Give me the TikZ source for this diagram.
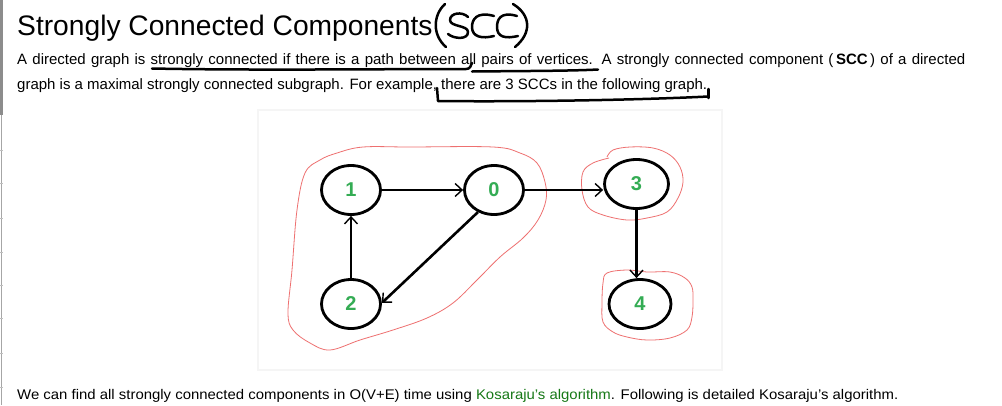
\documentclass[tikz,border=0pt]{standalone}
\usepackage{fontspec}
\setmainfont{Liberation Sans}
\usepackage{graphicx}
\usetikzlibrary{arrows.meta,shapes.geometric}
\definecolor{lbl}{RGB}{52,172,84}
\definecolor{linkc}{RGB}{22,120,22}
\definecolor{blob}{RGB}{238,112,112}
\begin{document}
\begin{tikzpicture}[x=1pt,y=-1pt,
  vtx/.style={ellipse, draw, line width=2.8pt, minimum width=59pt, minimum height=49pt, inner sep=0pt,
    font=\fontsize{20}{20}\selectfont\bfseries, text=lbl},
  edge/.style={line width=2.6pt, -{Straight Barb[length=7pt,width=13pt,line width=1.4pt]}},
  scc/.style={draw=blob, line width=0.8pt},
  pen/.style={line width=2.5pt, line cap=round, line join=round},
  txt/.style={anchor=base west, inner sep=0pt, font=\fontsize{15}{15}\selectfont}]
\useasboundingbox (0,0) rectangle (1002,405);
\fill[white] (0,0) rectangle (1002,405);
% left bar
\fill[black!45] (0,0) rectangle (2.5,115);
\draw[black!35, line width=1pt] (1,115) -- (1,405);
\foreach \yy in {150,183,218,252,285,318,353,387} \draw[black!25, line width=0.8pt] (0,\yy) -- (3,\yy);
% title
\node[anchor=base west, inner sep=0pt, font=\fontsize{28.2}{28.2}\selectfont] (title) at (17,35) {Strongly Connected Components};
% handwritten (SCC)
\begin{scope}[xshift=4pt]
\draw[pen] (441,4) .. controls (429,15) and (428,35) .. (442,47);
\draw[pen] (464,17) .. controls (458,11) and (446,13) .. (446,20) .. controls (446,27) and (464,25) .. (464,32) .. controls (464,40) and (450,39) .. (444,34);
\draw[pen] (490,16) .. controls (472,11) and (468,20) .. (468,27) .. controls (468,37) and (478,39) .. (490,36);
\draw[pen] (513,16) .. controls (496,11) and (493,20) .. (493,27) .. controls (493,37) and (501,39) .. (514,36);
\draw[pen] (509,4) .. controls (527,15) and (528,33) .. (511,47);
\end{scope}
% body text
\node[txt] (l1) at (17,64) {\makebox[948pt][s]{A directed graph is strongly connected if there is a path between all pairs of vertices. A strongly connected component (\,\textbf{SCC}\,) of a directed}};
\node[txt] (l2) at (17,89.5) {graph is a maximal strongly connected subgraph. For example, there are 3 SCCs in the following graph.};
% handwritten underline
\draw[pen] (152,68.5) .. controls (250,70.5) and (380,69) .. (466,69) .. controls (470,69) and (471,66) .. (472,63);
\draw[pen] (472,71.5) .. controls (520,71) and (570,71) .. (598,69.5);
\draw[pen] (437,88) -- (438,101) .. controls (520,102) and (640,100) .. (708,96.5);
\draw[pen] (708.5,89) -- (708.5,98);
% panel
\fill[black!4] (257,109) rectangle (723,371);
\fill[white] (259,111) rectangle (721,369);
% SCC blobs
\draw[scc] plot[smooth cycle, tension=0.6] coordinates {(305,173) (320,160) (337,153) (363,147) (410,147) (493,147) (520,153) (537,163) (545,182) (546,200) (538,220) (523,238) (500,257) (477,280) (453,303) (427,318) (393,330) (360,340) (330,350) (310,343) (293,330) (288,313) (292,270) (297,210)};
\draw[scc] plot[smooth, tension=0.6] coordinates {(607,157) (613,150) (630,147) (653,148) (670,155) (680,167) (683,182) (678,198) (667,212) (647,218) (627,220) (603,215) (588,207) (582,190) (583,172) (593,163) (609,158)};
\draw[scc] plot[smooth cycle, tension=0.6] coordinates {(607,273) (627,270) (647,272) (670,272) (685,278) (692,287) (693,300) (692,317) (687,330) (670,338) (647,340) (627,337) (613,332) (603,322) (602,303) (603,283)};
% graph
\node[vtx] (n1) at (351,190) {1};
\node[vtx] (n0) at (494,190) {0};
\node[vtx, minimum width=64pt] (n3) at (636.5,184) {3};
\node[vtx] (n2) at (351,304) {2};
\node[vtx, minimum width=62pt] (n4) at (640,304) {4};
\draw[edge] (n1) -- (n0);
\draw[edge] (n0.east) -- (n3.west |- n0.east);
\draw[edge] (n3) -- (n3 |- n4.north);
\draw[edge] (n2) -- (n1);
\draw[edge] (n0.234) -- (n2.2);
% bottom text
\node[anchor=base west, inner sep=0pt, font=\fontsize{14}{14}\selectfont] (l3) at (17,399) {\resizebox{881pt}{\height}{We can find all strongly connected components in O(V+E) time using \textcolor{linkc}{Kosaraju’s algorithm}. Following is detailed Kosaraju’s algorithm.}};
\end{tikzpicture}
\end{document}
